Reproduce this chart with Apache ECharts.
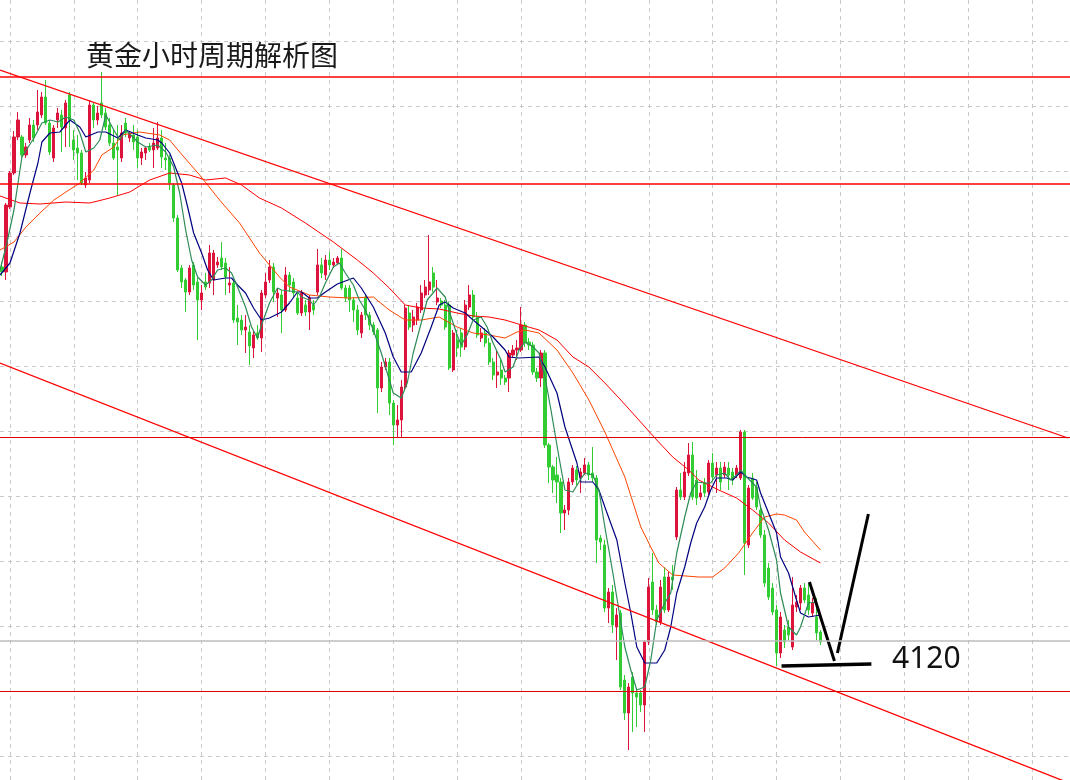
<!DOCTYPE html>
<html>
<head>
<meta charset="utf-8">
<title>黄金小时周期解析图</title>
<script src="https://cdn.jsdelivr.net/npm/echarts@6/dist/echarts.min.js"></script>
<style>
  html, body { margin: 0; padding: 0; background: #fff; }
  #main { width: 1070px; height: 780px; }
</style>
</head>
<body>
<div id="main"></div>
<script>
// 黄金 1小时 K线 (开/收/低/高)
const candleOpen = [4219.25,4218,4234.25,4242.75,4251.75,4251.75,4247.25,4251,4254.75,4254.75,
  4257.25,4261.75,4255.25,4246.5,4256,4257.25,4254,4262.25,4251,4249,
  4247.75,4239.75,4241,4259.75,4256,4260.25,4257.75,4254.75,4250.25,4249.25,
  4246.5,4255.25,4251.5,4252.25,4251.75,4246.5,4247.75,4249.25,4248.5,4249,
  4251.5,4246.5,4246.5,4239.75,4231.5,4219,4216,4213,4219.75,4215.5,
  4211,4215.5,4215.25,4216,4219.75,4221.5,4220.25,4214.75,4215.25,4206.5,
  4206,4203.5,4203,4199,4202.75,4201.5,4212.25,4216,4219.25,4211.5,
  4212.25,4208.5,4217.25,4215.5,4211.5,4207.75,4209.75,4208,4209.75,4213,
  4219.75,4217.25,4221,4219.75,4220.25,4221.5,4214,4214,4211,4208.5,
  4202.75,4211.75,4207.25,4204.75,4203.5,4189,4194.25,4195.5,4185.25,4179.75,
  4181,4189.25,4207.75,4204.75,4206,4208.5,4212.25,4213.5,4217.75,4210.5,
  4210.75,4209.75,4209.75,4193.5,4201,4202.75,4199.25,4209.25,4212.25,4206.75,
  4201.5,4202.75,4200.25,4195.5,4192.25,4193.5,4191.5,4191.5,4197.25,4198.5,
  4198.5,4204.75,4200.5,4199.75,4193,4191.5,4197.75,4174.75,4169.25,4167.25,
  4165.5,4157.75,4158.5,4165.5,4168.5,4166.75,4167.75,4169.75,4167.75,4166.5,
  4151.5,4149.75,4134,4138,4129.25,4132.75,4116,4107.75,4116.75,4112.75,
  4112.75,4109.75,4125.5,4140.5,4133.5,4130.5,4141.75,4133.5,4141.75,4151.75,
  4163.5,4161.75,4167.75,4172.25,4166,4161.75,4165.25,4163,4170.25,4167.25,
  4169,4167.25,4169,4168,4167.25,4166.5,4178,4149.75,4166.5,4164.25,
  4158.5,4152.25,4144,4139,4133.5,4122.75,4128.5,4129.25,4124.25,4134.25,
  4135.25,4139,4137.25,4132.75,4131.75,4128]
const candleClose = [4218,4234.75,4242.75,4251.75,4256,4247.25,4249.25,4254.75,4251.5,4258,
  4261.75,4255.25,4248,4254,4257.75,4254.25,4260.25,4256,4248.5,4247.75,
  4240.25,4241.5,4259.75,4256,4257.75,4257.25,4254.25,4250.25,4246.5,4248.5,
  4252.75,4252.75,4252.75,4250.5,4246.5,4248,4249,4248.5,4250.25,4251.5,
  4246.75,4246,4240.25,4231.5,4218.5,4215.5,4213,4219,4214.75,4211,
  4212.75,4214.25,4222.75,4222.75,4220.5,4219.25,4216.75,4215.25,4206,4205.5,
  4203.5,4204.25,4199.5,4202.25,4201.5,4212.75,4215.5,4219.25,4213,4212.75,
  4208.5,4217.25,4214.75,4212.75,4207.75,4212.75,4208,4211.5,4208.5,4219.75,
  4217.75,4221,4219.75,4220.5,4221.5,4214,4211.5,4211,4208.5,4203.5,
  4207.25,4207.25,4204.75,4203,4189,4194.25,4195.5,4185.25,4179.75,4181,
  4189.25,4209,4204.25,4206.75,4209.25,4212.75,4214.25,4215.5,4214.25,4211.5,
  4209.75,4204.25,4194,4202.75,4199,4199.25,4209.75,4212.25,4206.75,4202.25,
  4202.75,4200.25,4195.5,4192.25,4193,4191.5,4190.5,4197.75,4198.5,4199,
  4204.75,4200.25,4199.75,4193,4191.5,4197.75,4174.75,4169.25,4166,4165.5,
  4157.75,4158.5,4165.5,4169,4166,4168,4169.75,4167.25,4166.5,4151,
  4150.5,4134,4138,4129.75,4132.25,4114.25,4107.75,4114.25,4112.75,4111.75,
  4109.75,4125.5,4139.25,4133.5,4130.5,4139.25,4133.5,4141.75,4141,4163.5,
  4161.75,4168,4172.25,4161.75,4161.5,4162.75,4162.75,4170.25,4166.75,4169,
  4165.5,4169.25,4167.25,4166,4169,4178,4150.25,4164,4161.5,4159.25,
  4152.25,4140.25,4136.75,4133,4122.75,4131.75,4125.5,4127.25,4134.75,4135.5,
  4139,4136,4133.5,4135.25,4127.75,4125.5]
const candleLow = [4217,4216,4233.75,4242.25,4251,4246.5,4246.5,4250.25,4250.5,4253.5,
  4256.5,4254.75,4247.25,4245.5,4254,4248,4249.25,4249.25,4246,4241,
  4239.75,4239,4240.25,4254,4254.75,4256.5,4253.5,4249.5,4246,4237.25,
  4245.5,4251.75,4250.5,4248.5,4244,4244.75,4246,4248,4244,4248.5,
  4244,4243.5,4238.5,4230.5,4218,4214,4208,4212.25,4213.5,4201,
  4208.5,4213.5,4214,4212.25,4219,4218.5,4212.25,4212.75,4205.25,4199.75,
  4202.25,4197.75,4194.75,4196.5,4201,4198,4211.5,4215.25,4210.5,4206.75,
  4202.75,4208,4213,4211.75,4207.25,4207,4207,4203.5,4207.25,4212.25,
  4216.5,4216,4218.5,4219,4219.75,4213.5,4210.5,4208,4205.5,4202.25,
  4201.5,4206,4203.5,4202.25,4182.75,4188,4193.5,4182.25,4174.75,4176.75,
  4176.75,4188.5,4203.5,4203,4204.75,4207.75,4211.5,4212.25,4213,4209.75,
  4209,4203.5,4193.5,4193,4196.75,4196.75,4198.5,4208.5,4206,4201.5,
  4200.5,4199.25,4194.75,4191,4189,4189.75,4189.75,4188,4196.5,4196,
  4198,4199.25,4198.5,4192.25,4190.5,4189.25,4174,4165.25,4162.75,4160.25,
  4152.75,4153.5,4157.25,4164.75,4164.75,4162.75,4167.25,4166,4165.5,4145.25,
  4148.5,4133,4130.25,4127.75,4121,4113.5,4106,4098.5,4103,4104.25,
  4108,4103,4124.75,4132.25,4129.75,4129.75,4132.75,4133,4138.5,4151,
  4161,4161,4167,4161,4159.75,4161,4161.75,4162.25,4166,4162.75,
  4163.5,4166.5,4163.5,4164.75,4166.5,4166,4142.25,4149,4161,4158.5,
  4151.5,4139.25,4136,4132.25,4119.5,4121.5,4124,4126,4123.5,4133,
  4133.5,4135.25,4132.25,4131.75,4126,4124.75]
const candleHigh = [4220.5,4235.25,4243.25,4253.25,4258,4252.25,4250.25,4256.5,4256,4263.5,
  4263,4266,4256,4254.75,4259,4258.5,4261,4263,4253.5,4252.25,
  4248.5,4243,4261,4260.25,4259.5,4268,4259,4256.5,4253.5,4254.75,
  4254.75,4256.5,4253,4254.75,4253.5,4249,4249.25,4250.25,4254,4255.5,
  4253.5,4250.25,4247.25,4240.25,4232.25,4219.75,4216.5,4219.75,4220.5,4216.5,
  4214.75,4217.75,4224.75,4223.5,4221.75,4225.5,4221.5,4219.25,4216,4209.75,
  4207.25,4207.25,4204.75,4203.5,4204.75,4213.5,4217.75,4221,4220.25,4214,
  4213.5,4219.25,4218,4216.5,4212.75,4213.5,4211,4212.25,4211,4223.75,
  4221.5,4222.25,4223,4221.5,4222,4223.75,4214.75,4214.75,4211.75,4209.75,
  4208,4212.25,4208,4205.5,4204,4195.5,4196.5,4196.5,4186,4184.75,
  4191,4209.75,4209.75,4208.5,4210.25,4214.75,4216,4227.25,4219.25,4216,
  4211.5,4211,4210.5,4203.5,4203.5,4204,4211,4214.75,4213.5,4208,
  4204,4204,4201.5,4196.5,4198.5,4196,4192.25,4198.5,4199.75,4201,
  4209.25,4205.5,4201.5,4200.5,4194,4198.5,4198.5,4175.25,4169.75,4171.75,
  4166.5,4159.75,4166.5,4169.75,4169.5,4169,4171.5,4170.5,4174.25,4167.25,
  4152.25,4151,4139,4139.75,4134,4133.5,4117.25,4115.25,4118,4113.5,
  4113.5,4126,4141.5,4147.75,4134.75,4141,4144.25,4143,4144.75,4164.25,
  4167.75,4170.5,4175.25,4175.5,4168.5,4164.75,4166.5,4171,4172.75,4170.5,
  4170.5,4170.5,4170.5,4169,4169.75,4178.5,4178.5,4164.75,4167.75,4165.5,
  4159.75,4153.5,4145.25,4140.25,4134.75,4133,4129.75,4131,4141.75,4137.25,
  4139.75,4140.25,4140.25,4136.5,4136.5,4128.5]

// 均线 [K线序号, 价格]
const maFast = [[-0.5,4218.5],[1,4224.25],[3,4233.5],[4.5,4243.5],[5,4246.75],[8,4251.5],[10,4255.25],[12,4256],[14,4255.5],[16,4256.75],
  [18,4256],[19.5,4252.75],[21,4248],[23,4249],[24.5,4251],[26,4257.25],[28,4253.5],[29.5,4251],[31,4253.5],[34,4250.5],
  [36,4249.25],[39,4249.75],[41,4248],[43,4244.25],[44.5,4237.75],[46,4228.5],[47.5,4221],[49,4216.75],[51,4214.75],[52.5,4216],
  [54,4218.5],[56,4219],[57.5,4217.75],[59,4214.25],[61,4209.25],[62.5,4204.25],[64,4201.5],[65,4204.75],[67,4210.25],[69,4214],
  [70,4213.5],[74,4213],[75,4211.75],[77,4211],[78,4209.75],[79.5,4211.75],[81,4215.25],[83,4219.25],[84.5,4220.25],[86,4217.75],
  [88,4214.75],[89.5,4211],[91,4208.5],[93,4203.5],[95,4197.75],[96.5,4192.75],[98,4187.75],[100,4186.5],[101.5,4190.25],[103,4197.75],
  [105,4205.25],[106.5,4211],[109,4214],[111,4211.75],[112.5,4206.75],[114,4202.25],[115,4199.75],[116.5,4202.25],[118,4206],[120,4206.75],
  [121.5,4204.25],[123,4200.25],[125,4196],[126,4193],[128,4194.25],[129.5,4198.5],[131,4200.5],[133,4199.25],[134.5,4197.75],[136,4191.75],
  [137.5,4183.5],[139.5,4171.75],[141,4163.5],[143,4163],[144.5,4165.5],[146,4167.75],[148,4167.25],[149.5,4163.5],[151,4154.25],[153,4142.75],
  [154.5,4133.5],[156,4124.25],[157.5,4118.5],[159,4113.5],[161,4114.25],[162.5,4121],[164,4131],[166,4135.25],[167.5,4137.75],[169,4147.75],
  [171,4156.75],[172.5,4162.75],[174,4165.5],[176,4165.25],[177.5,4165.25],[179,4167.25],[181,4167.75],[182.5,4166],[184,4167.25],[185,4168.5],
  [186.5,4166.75],[189,4164.25],[190,4159.25],[192,4153.5],[194,4146],[195,4137.75],[197,4129.25],[199,4127.25],[200,4129.25],[202,4135.25],
  [204,4135.5],[205,4131.75]]
const maMid = [[-0.5,4217.25],[2,4220.25],[4.5,4227.75],[7,4237.75],[9,4245.25],[10,4250.5],[12,4252.75],[14.5,4253],[17,4256],[19.5,4254.25],
  [21,4251.75],[24,4253],[26,4253],[29,4251.5],[31,4253.5],[34,4252.25],[36,4251.5],[39,4251],[40,4250.25],[42,4247.75],
  [43,4245.25],[45,4240.25],[46.5,4234.25],[48,4227.75],[50,4222.75],[51.5,4218.5],[53,4216],[56,4216.5],[57.5,4216.5],[59,4214.75],
  [61,4212.75],[63,4209],[65,4206],[67,4206.5],[70,4208],[72,4210.25],[74,4213],[75,4213],[77,4211.5],[79,4211.5],
  [81,4213],[84,4215],[88,4216.5],[90,4214],[93,4209.25],[96,4202.75],[98,4196.75],[100,4193],[102.5,4193],[105,4197.75],
  [107.5,4204.25],[109.5,4209.75],[111,4210.5],[113,4209],[116,4207.75],[118,4206],[121,4203.5],[123,4201.75],[126,4198.5],[127,4196.75],
  [129.5,4196.5],[134.5,4196.75],[136,4194.25],[139,4187.75],[141,4179.25],[144,4170.25],[145,4165.5],[148,4165.5],[149.5,4163.5],[151,4159.25],
  [154,4151],[156,4140.25],[157.5,4132.75],[159,4124.25],[161,4120.25],[164,4120.25],[166,4123.5],[167.5,4129.25],[169,4137.75],[171,4144.25],
  [172.5,4150.25],[174,4155.25],[176,4159.25],[177.5,4163.5],[179,4166.5],[181.5,4166.5],[183,4166],[185,4168],[186.5,4166.75],[189,4166],
  [190,4162.75],[192,4157.75],[194,4152.75],[195,4146.75],[197,4142.75],[199,4136],[200,4132.75],[202,4131.75],[205,4132.25]]
const maSlow = [[-0.5,4223.5],[3,4225.5],[6,4229.25],[9.5,4232.75],[13,4236],[16,4238],[19.5,4240.25],[23,4243.5],[25,4247.25],[28,4249.25],
  [30,4252.25],[34.5,4253],[39.5,4252.25],[42,4251],[44.5,4248],[49.5,4242.25],[54.5,4236],[59.5,4230.25],[64.5,4222.75],[69.5,4216.75],
  [72,4214.25],[77,4212.25],[82,4211.75],[87,4211.5],[93,4211.75],[97,4208.5],[101,4206],[105,4206],[109.5,4206.75],[114,4204.25],
  [118,4202.75],[122,4202.25],[126,4201.5],[129,4203],[131,4203.5],[134.5,4202.75],[139,4198.5],[143,4192.75],[147,4186],[151,4178],
  [156,4166.75],[160,4154.25],[164.5,4145.25],[168,4142.25],[174.5,4141.75],[178,4141.75],[181,4144],[184.5,4147.75],[188,4152.75],[191,4156.75],
  [194,4157.5],[196,4157.25],[199,4156],[201,4153],[205,4148.5]]
const maLong = [[-0.5,4237],[4.5,4235.25],[9.5,4235],[16,4235.5],[22,4235.25],[27,4236.5],[32,4238],[37,4241],[42,4242.75],[47,4242.25],
  [51,4241],[56,4241.5],[60,4239.75],[64.5,4236.5],[70,4234],[76,4230.25],[83,4225.5],[89,4221],[93,4217.75],[97,4214],
  [101,4209.75],[105,4209],[109.5,4208.75],[114,4207.75],[118,4207],[122,4206.75],[126,4206],[131,4204.5],[134.5,4203.5],[139,4201],
  [143,4196.75],[147,4194.25],[151,4190.25],[155,4186],[159.5,4181],[164,4176],[168,4171.75],[172,4168.5],[174.5,4166],[179.5,4163.5],
  [184,4161.5],[188,4158.5],[192,4155.25],[196,4151],[200,4148],[205,4145.25]]

// 水平线 / 通道线 / 手绘线
const upperLevels = [4266.75, 4240]
const lowerLevels = [4176.75, 4113.25]
const lastPrice = 4125.75
const channelTop = [[-0.5, 4268.5], [267, 4176.5]]
const channelBottom = [[-0.5, 4195.25], [267, 4090.35]]
const strokeDown = [[202.25, 4140.5], [208.5, 4120.75]]
const strokeUp = [[209.25, 4122.75], [217, 4157.5]]
const strokeBase = [[195.25, 4119.5], [217.75, 4120]]
const targetLabel = '4120'

// 网格刻度
const gridX = [2, 18, 34, 50, 66, 82, 98, 114, 130, 146, 162, 178, 194, 210, 226, 242, 258]
const gridY = [4275.75, 4259.5, 4243.25, 4227, 4210.75, 4194.5, 4178.25, 4162, 4145.75, 4129.5, 4113.25, 4097]
const slotCount = 268

const chart = echarts.init(document.getElementById('main'))

const slots = Array.from({ length: slotCount }, (_, i) => String(i))
const candles = candleOpen.map((o, i) => [o, candleClose[i], candleLow[i], candleHigh[i]])

function lineOf(data, color, width) {
  return {
    type: 'line',
    xAxisIndex: 1,
    data: data,
    symbol: 'none',
    silent: true,
    z: 4,
    lineStyle: { color: color, width: width }
  }
}

function level(v, color, width) {
  return { yAxis: v, lineStyle: { color: color, width: width, type: 'solid' } }
}

const dashed = { color: '#c8c8c8', width: 1, type: [4, 4] }

chart.setOption({
  animation: false,
  backgroundColor: '#fff',
  title: {
    text: '黄金小时周期解析图',
    left: 81,
    top: 36,
    textStyle: { fontSize: 28, fontWeight: 'normal', color: '#1a1a1a', fontFamily: 'Noto Sans CJK SC' }
  },
  grid: { left: 0, top: 0, width: 1072, height: 780 },
  xAxis: [
    { type: 'category', data: slots, boundaryGap: true, show: false },
    {
      type: 'value', min: -0.5, max: slotCount - 0.5,
      axisLine: { show: false }, axisLabel: { show: false },
      axisTick: { show: false, customValues: gridX },
      splitLine: { show: true, lineStyle: dashed }
    }
  ],
  yAxis: {
    type: 'value', min: 4091, max: 4286,
    axisLine: { show: false }, axisLabel: { show: false },
    axisTick: { show: false, customValues: gridY },
    splitLine: { show: true, lineStyle: dashed }
  },
  series: [
    {
      type: 'candlestick',
      xAxisIndex: 0,
      data: candles,
      barWidth: 2.6,
      z: 2,
      itemStyle: {
        color: '#dc143c', color0: '#32cd32',
        borderColor: '#dc143c', borderColor0: '#32cd32',
        borderWidth: 1
      },
      markLine: {
        silent: true,
        symbol: 'none',
        label: { show: false },
        data: upperLevels.map(v => level(v, '#ff0000', 1.5))
          .concat(lowerLevels.map(v => level(v, '#e00000', 1)))
          .concat([level(lastPrice, '#bcbcbc', 1.5)])
      }
    },
    lineOf(maLong, '#ff0000', 1),
    lineOf(maSlow, '#ff4500', 1),
    lineOf(maMid, '#000080', 1.2),
    lineOf(maFast, '#2e8b57', 1.2),
    lineOf(channelTop, '#ff0000', 1.3),
    lineOf(channelBottom, '#ff0000', 1.3),
    lineOf(strokeDown, '#000', 3),
    lineOf(strokeUp, '#000', 3),
    lineOf(strokeBase, '#000', 3.5)
  ],
  graphic: [
    {
      type: 'text', x: 892, y: 659, z: 10,
      style: { text: targetLabel, fontSize: 30, fontFamily: 'Noto Sans', fill: '#111', verticalAlign: 'middle' }
    }
  ]
})
</script>
</body>
</html>
